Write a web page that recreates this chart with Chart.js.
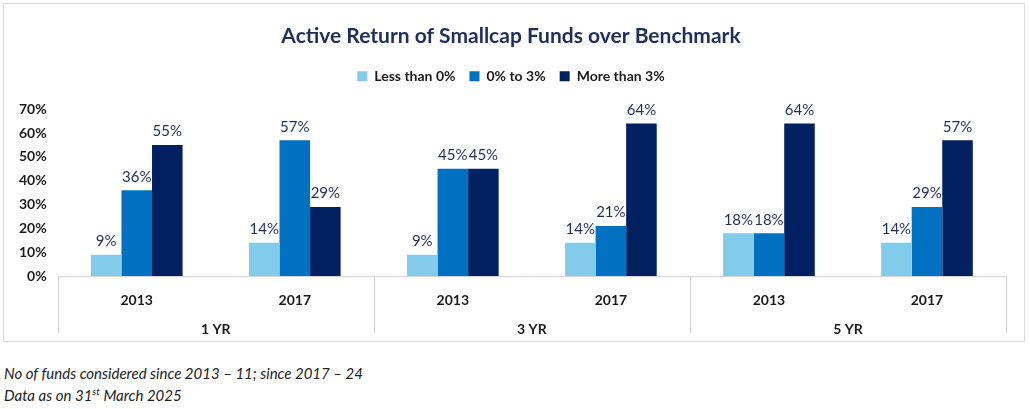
<!DOCTYPE html>
<html>
<head>
<meta charset="utf-8">
<script src="https://cdn.jsdelivr.net/npm/chart.js@4"></script>
<style>
  body { margin: 0; background: #fff; font-family: Lato, "Open Sans", sans-serif; }
  #box { position: absolute; left: 3px; top: 3px; width: 1020px; height: 337px; border: 1px solid #d9d9d9; }
  #notes { position: absolute; left: 4px; top: 362px; font-style: italic; font-size: 15px; color: #222; line-height: 22px; }
  sup { font-size: 10px; line-height: 0; }
</style>
</head>
<body>
<div id="box"><canvas id="activeChart"></canvas></div>
<div id="notes">No of funds considered since 2013 &ndash; 11; since 2017 &ndash; 24<br>Data as on 31<sup>st</sup> March 2025</div>
<script>
// Chart data
const yearLabels = ['2013', '2017', '2013', '2017', '2013', '2017'];
const groupLabels = ['1 YR', '3 YR', '5 YR'];
const lessThan0 = [9, 14, 9, 14, 18, 14];
const zeroTo3 = [36, 57, 45, 21, 18, 29];
const moreThan3 = [55, 29, 45, 64, 64, 57];

const NAVY = '#1f2f5c';

const valueLabels = {
    id: 'valueLabels',
    afterDatasetsDraw(chart) {
        const ctx = chart.ctx;
        ctx.save();
        ctx.font = '15px Lato, sans-serif';
        ctx.fillStyle = NAVY;
        ctx.textAlign = 'center';
        ctx.textBaseline = 'bottom';
        chart.data.datasets.forEach((ds, i) => {
            chart.getDatasetMeta(i).data.forEach((bar, j) => {
                ctx.fillText(ds.data[j] + '%', bar.x, bar.y - 6);
            });
        });
        ctx.restore();
    }
};

const groupAxis = {
    id: 'groupAxis',
    afterDraw(chart) {
        const ctx = chart.ctx;
        const x = chart.scales.x;
        const area = chart.chartArea;
        const step = (x.right - x.left) / yearLabels.length;
        const bottom = chart.height - 8;
        ctx.save();
        ctx.strokeStyle = '#d0d0d0';
        ctx.lineWidth = 1;
        ctx.beginPath();
        ctx.moveTo(x.left, area.bottom + 0.5);
        ctx.lineTo(x.right, area.bottom + 0.5);
        for (let g = 0; g <= groupLabels.length; g++) {
            const px = Math.round(x.left + g * 2 * step) + 0.5;
            ctx.moveTo(px, area.bottom);
            ctx.lineTo(px, bottom);
        }
        ctx.stroke();
        ctx.font = 'bold 14px Lato, sans-serif';
        ctx.fillStyle = '#1a1a1a';
        ctx.textAlign = 'center';
        ctx.textBaseline = 'middle';
        groupLabels.forEach((lbl, g) => {
            ctx.fillText(lbl, x.left + (g * 2 + 1) * step, area.bottom + 53);
        });
        ctx.restore();
    }
};

// extra room under the legend
const legendGap = {
    id: 'legendGap',
    beforeInit(chart) {
        const fit = chart.legend.fit;
        chart.legend.fit = function() {
            fit.bind(chart.legend)();
            this.height += 16;
        };
    }
};

new Chart(document.getElementById('activeChart').getContext('2d'), {
    type: 'bar',
    data: {
        labels: yearLabels,
        datasets: [
            { label: 'Less than 0%', data: lessThan0, backgroundColor: '#83cbeb' },
            { label: '0% to 3%', data: zeroTo3, backgroundColor: '#0070c0' },
            { label: 'More than 3%', data: moreThan3, backgroundColor: '#002060' }
        ]
    },
    options: {
        responsive: true,
        maintainAspectRatio: false,
        animation: false,
        layout: { padding: { left: 12, right: 18, top: 0, bottom: 24 } },
        datasets: { bar: { categoryPercentage: 0.58, barPercentage: 1 } },
        plugins: {
            title: {
                display: true,
                text: 'Active Return of Smallcap Funds over Benchmark',
                color: NAVY,
                font: { family: 'Lato', size: 21, weight: 'bold' },
                padding: { top: 20, bottom: 6 }
            },
            legend: {
                position: 'top',
                labels: {
                    boxWidth: 10,
                    boxHeight: 10,
                    color: '#1a1a1a',
                    font: { family: 'Lato', size: 14, weight: 'bold' },
                    padding: 14
                }
            },
            tooltip: { enabled: false }
        },
        scales: {
            y: {
                min: 0,
                max: 70,
                ticks: {
                    stepSize: 10,
                    color: '#1a1a1a',
                    font: { family: 'Lato', size: 14, weight: 'bold' },
                    callback: v => v + '%'
                },
                grid: { display: false },
                border: { display: false }
            },
            x: {
                ticks: {
                    color: '#1a1a1a',
                    font: { family: 'Lato', size: 14, weight: 'bold' },
                    padding: 8
                },
                grid: { display: false },
                border: { display: false }
            }
        }
    },
    plugins: [valueLabels, groupAxis, legendGap]
});
</script>
</body>
</html>
